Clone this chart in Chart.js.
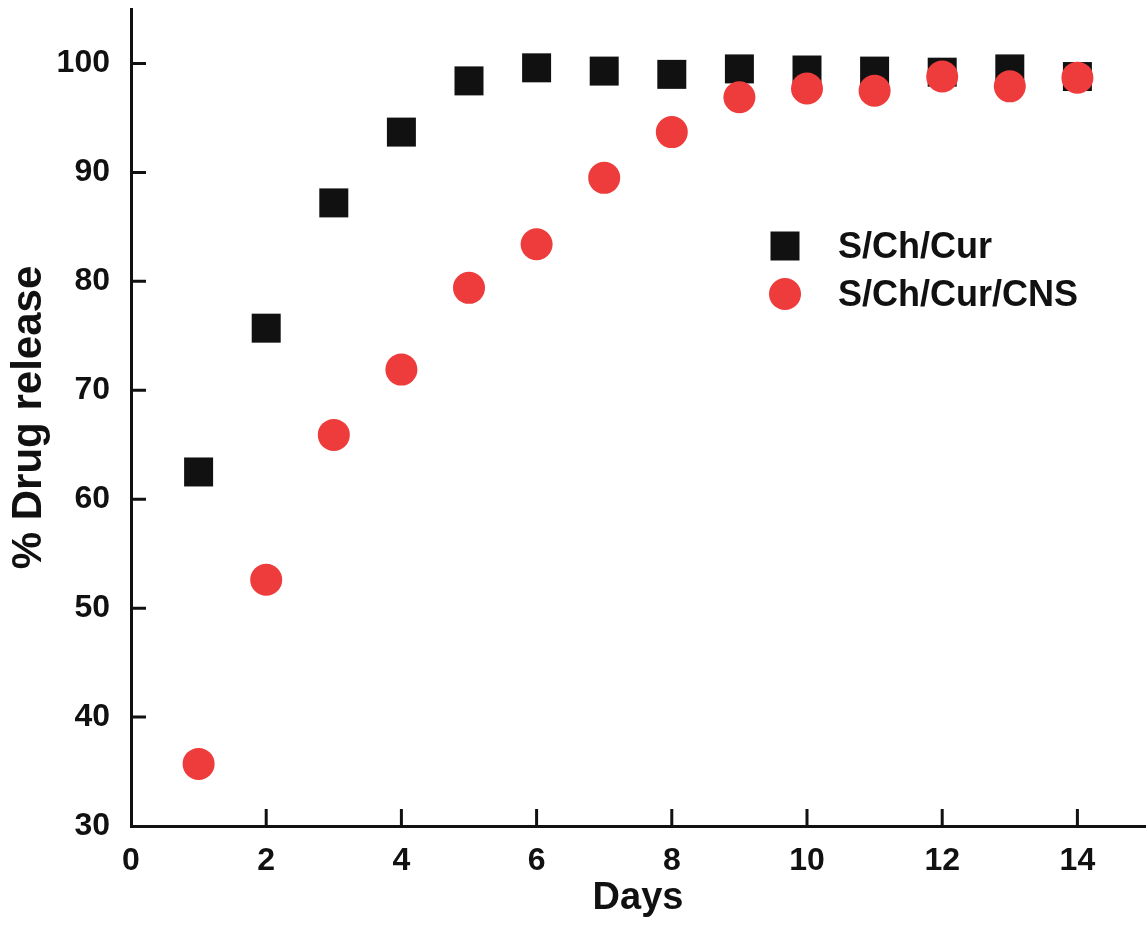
<!DOCTYPE html>
<html>
<head>
<meta charset="utf-8">
<script src="https://cdn.jsdelivr.net/npm/chart.js@4/dist/chart.umd.min.js"></script>
<style>
html, body { margin: 0; padding: 0; background: #fff; }
</style>
</head>
<body>
<canvas id="releaseChart" width="1147" height="931"></canvas>
<script>
// données
const days = [1, 2, 3, 4, 5, 6, 7, 8, 9, 10, 11, 12, 13, 14];
const releaseCur = [62.5, 75.7, 87.2, 93.7, 98.4, 99.6, 99.3, 99.0, 99.5, 99.4, 99.3, 99.2, 99.5, 98.8];
const releaseCns = [35.7, 52.6, 65.9, 71.9, 79.4, 83.4, 89.5, 93.7, 96.9, 97.7, 97.5, 98.8, 97.9, 98.7];
const seriesLabels = ['S/Ch/Cur', 'S/Ch/Cur/CNS'];
const xTicks = [0, 2, 4, 6, 8, 10, 12, 14];
const yTicks = [30, 40, 50, 60, 70, 80, 90, 100];

const FONT = "'Liberation Sans', Arial, sans-serif";
const INK = '#111111';
const RED = '#EE3B3B';

const toPoints = ys => days.map((d, i) => ({ x: d, y: ys[i] }));

// petits traits vers l'intérieur
const inwardTicks = {
    id: 'inwardTicks',
    afterDatasetsDraw(chart) {
        const { ctx, chartArea, scales: { x, y } } = chart;
        ctx.save();
        ctx.strokeStyle = INK;
        ctx.lineWidth = 3;
        ctx.beginPath();
        x.ticks.forEach(t => {
            if (t.value === 0) return;
            const px = x.getPixelForValue(t.value);
            ctx.moveTo(px, chartArea.bottom);
            ctx.lineTo(px, chartArea.bottom - 17);
        });
        y.ticks.forEach(t => {
            if (t.value === 30) return;
            const py = y.getPixelForValue(t.value);
            ctx.moveTo(chartArea.left, py);
            ctx.lineTo(chartArea.left + 15, py);
        });
        ctx.stroke();
        ctx.restore();
    }
};

// légende dans le graphique
const insideLegend = {
    id: 'insideLegend',
    afterDraw(chart) {
        const ctx = chart.ctx;
        const rows = [246, 294];
        ctx.save();
        chart.data.datasets.forEach((ds, i) => {
            const cy = rows[i];
            ctx.fillStyle = ds.backgroundColor;
            if (ds.pointStyle === 'rect') {
                ctx.fillRect(785 - 14.5, cy - 14.5, 29, 29);
            } else {
                ctx.beginPath();
                ctx.arc(785, cy, 16, 0, Math.PI * 2);
                ctx.fill();
            }
            ctx.fillStyle = INK;
            ctx.font = 'bold 36px ' + FONT;
            ctx.textBaseline = 'middle';
            ctx.textAlign = 'left';
            ctx.fillText(ds.label, 838, cy + 2);
        });
        ctx.restore();
    }
};

new Chart(document.getElementById('releaseChart').getContext('2d'), {
    type: 'scatter',
    data: {
        datasets: [{
            label: seriesLabels[0],
            data: toPoints(releaseCur),
            pointStyle: 'rect',
            pointRadius: 20.5,
            backgroundColor: INK,
            borderWidth: 0,
            order: 2
        }, {
            label: seriesLabels[1],
            data: toPoints(releaseCns),
            pointStyle: 'circle',
            pointRadius: 16,
            backgroundColor: RED,
            borderWidth: 0,
            order: 1
        }]
    },
    options: {
        responsive: false,
        animation: false,
        devicePixelRatio: 1,
        layout: { autoPadding: false, padding: { left: 0, right: 2, top: 9, bottom: 0 } },
        plugins: {
            legend: { display: false },
            tooltip: { enabled: false }
        },
        scales: {
            x: {
                type: 'linear',
                min: 0,
                max: 15,
                afterBuildTicks: s => { s.ticks = xTicks.map(v => ({ value: v })); },
                afterFit: s => {
                    s.height = 105;
                    s.paddingLeft = 0;
                    s.paddingRight = 0;
                },
                grid: { display: false, drawTicks: false },
                border: { display: true, color: INK, width: 3 },
                ticks: { color: INK, padding: 16, maxRotation: 0, font: { family: FONT, size: 32, weight: 'bold' } },
                title: {
                    display: true,
                    text: 'Days',
                    color: INK,
                    font: { family: FONT, size: 38, weight: 'bold' },
                    padding: { top: 0, bottom: 10 }
                }
            },
            y: {
                type: 'linear',
                min: 30,
                max: 105,
                afterBuildTicks: s => { s.ticks = yTicks.map(v => ({ value: v })); },
                afterFit: s => {
                    s.width = 131;
                    s.paddingTop = 0;
                    s.paddingBottom = 0;
                },
                grid: { display: false, drawTicks: false },
                border: { display: true, color: INK, width: 3 },
                ticks: { color: INK, padding: 21, font: { family: FONT, size: 32, weight: 'bold' } },
                title: {
                    display: true,
                    text: '% Drug release',
                    color: INK,
                    font: { family: FONT, size: 42, weight: 'bold' },
                    padding: { top: 4, bottom: 0 }
                }
            }
        }
    },
    plugins: [inwardTicks, insideLegend]
});
</script>
</body>
</html>
